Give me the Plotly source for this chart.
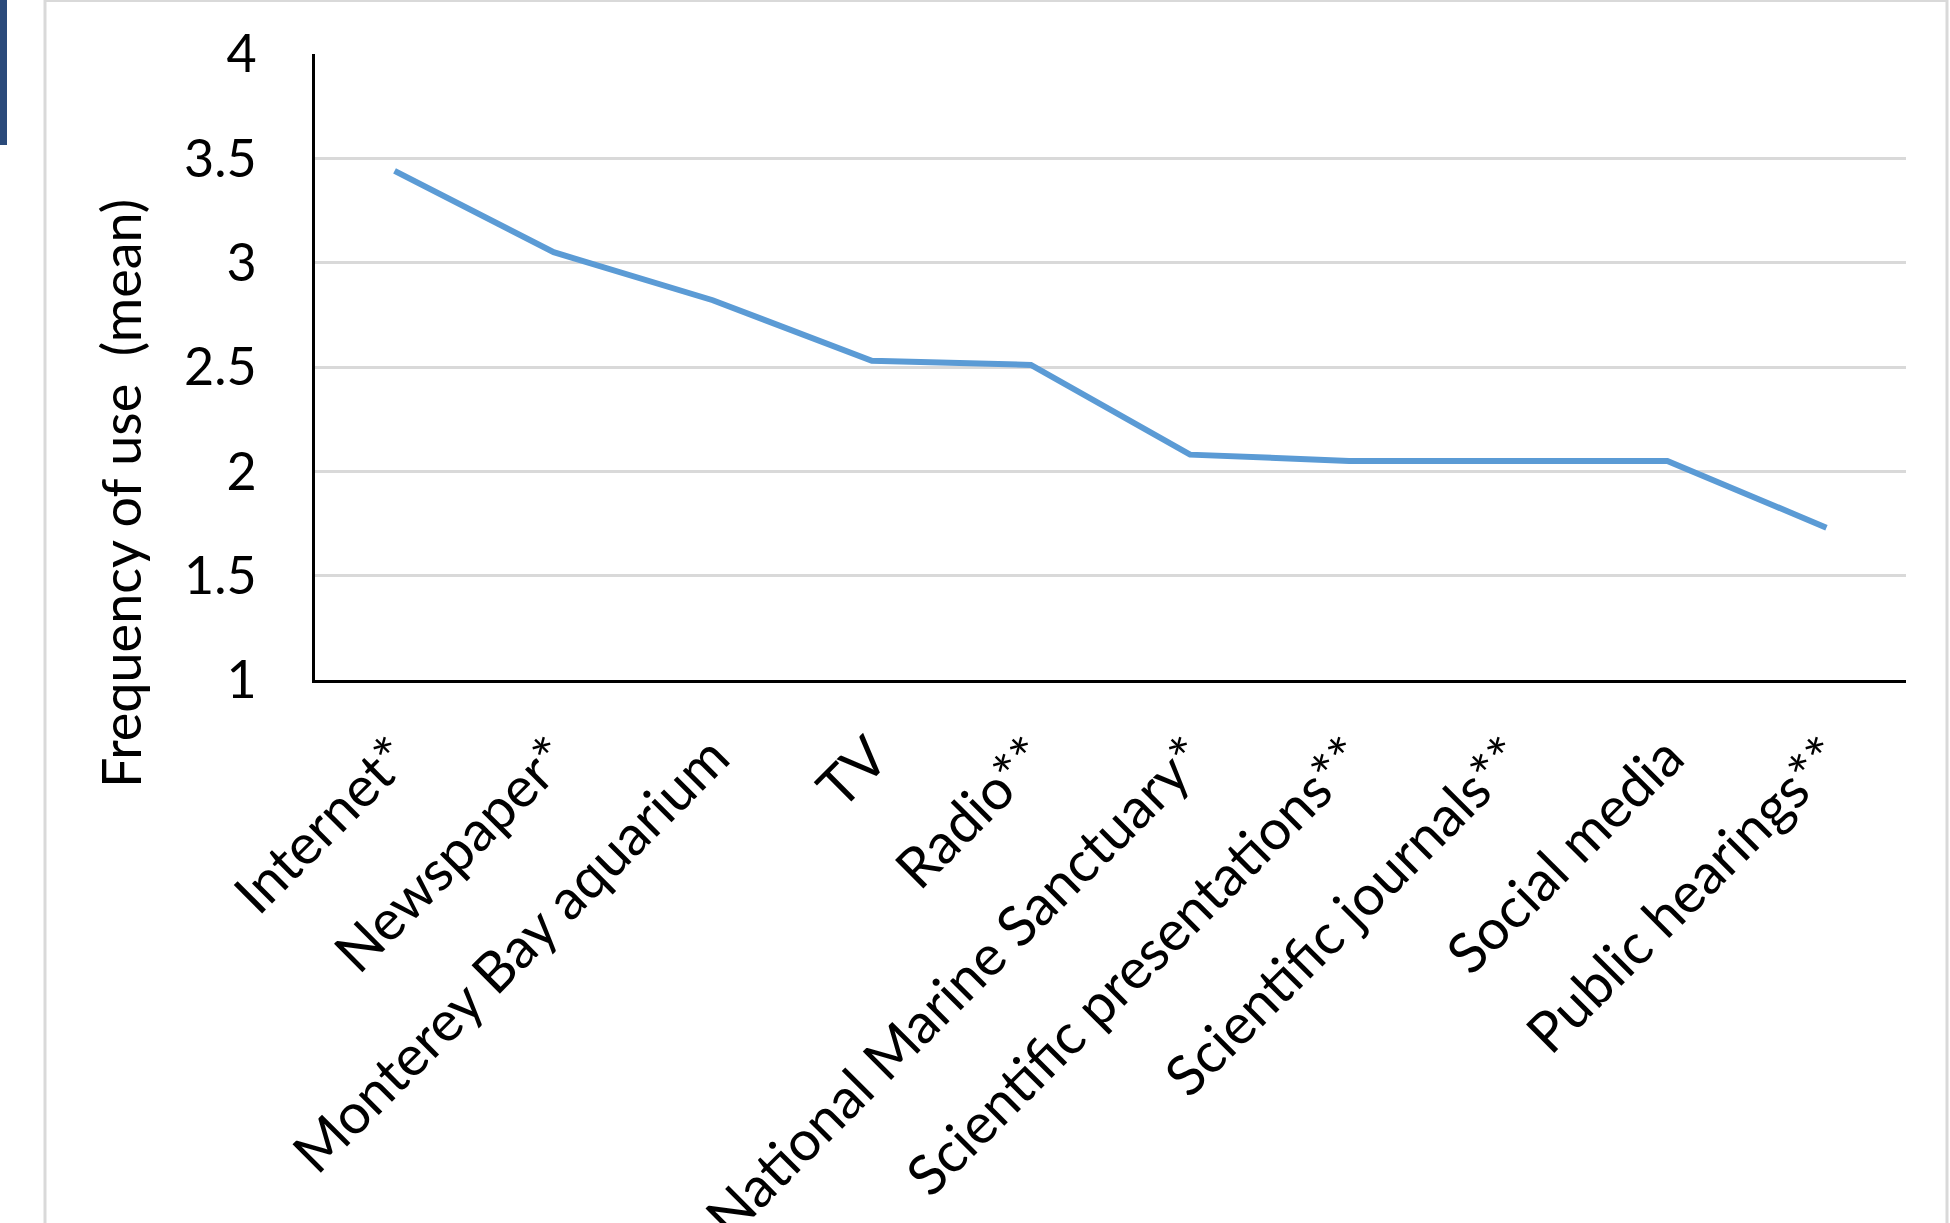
import plotly.graph_objects as go

categories = ["Internet*", "Newspaper*", "Monterey Bay aquarium", "TV", "Radio**",
              "National Marine Sanctuary*", "Scientific presentations**",
              "Scientific journals**", "Social media", "Public hearings**"]
mean_use = [3.44, 3.05, 2.82, 2.53, 2.51, 2.08, 2.05, 2.05, 2.05, 1.73]
y_ticks = [1, 1.5, 2, 2.5, 3, 3.5, 4]
y_tick_labels = ["1", "1.5", "2", "2.5", "3", "3.5", "4"]

W, H = 1950, 1223
L, R, T, B = 315, 44, 54, 543
pw, ph = W - L - R, H - T - B

def px(x):
    return (x - L) / pw

def py(y):
    return (H - B - y) / ph

FONT = "Lato, 'Open Sans', sans-serif"

fig = go.Figure()
fig.add_trace(go.Scatter(
    x=categories, y=mean_use, mode="lines",
    line=dict(color="#5b9bd5", width=6),
    hoverinfo="skip", showlegend=False,
))

fig.update_layout(
    width=W, height=H,
    margin=dict(l=L, r=R, t=T, b=B, pad=0, autoexpand=False),
    paper_bgcolor="white", plot_bgcolor="white",
    font=dict(family=FONT, size=54, color="black"),
    xaxis=dict(
        type="category", range=[-0.5, 9.5], automargin=False,
        tickangle=-45, showgrid=False, zeroline=False,
        showline=True, linecolor="black", linewidth=3,
        ticks="", ticklabelstandoff=19,
        tickfont=dict(family=FONT, size=56, color="black"),
    ),
    yaxis=dict(
        range=[1, 4], tickvals=y_ticks, ticktext=y_tick_labels, automargin=False,
        showgrid=True, gridcolor="#d9d9d9", gridwidth=3,
        zeroline=False, showline=True, linecolor="black", linewidth=3,
        ticks="", ticklabelstandoff=45,
        tickfont=dict(family=FONT, size=52, color="black"),
    ),
    annotations=[dict(
        text="Frequency of use  (mean)", textangle=-90,
        xref="paper", yref="paper", x=px(120), y=py(494),
        xanchor="center", yanchor="middle", showarrow=False,
        font=dict(family=FONT, size=54, color="black"),
    )],
    shapes=[
        dict(type="line", xref="paper", yref="paper",
             x0=px(45), x1=px(45), y0=py(1223), y1=py(0),
             line=dict(color="#d9d9d9", width=3)),
        dict(type="line", xref="paper", yref="paper",
             x0=px(45), x1=px(1947), y0=py(1), y1=py(1),
             line=dict(color="#d9d9d9", width=2)),
        dict(type="line", xref="paper", yref="paper",
             x0=px(1947), x1=px(1947), y0=py(1223), y1=py(0),
             line=dict(color="#d9d9d9", width=3)),
        dict(type="rect", xref="paper", yref="paper",
             x0=px(0), x1=px(7), y0=py(145), y1=py(0),
             fillcolor="#2a4a7a", line=dict(width=0)),
    ],
)

fig.write_html("out.html")
